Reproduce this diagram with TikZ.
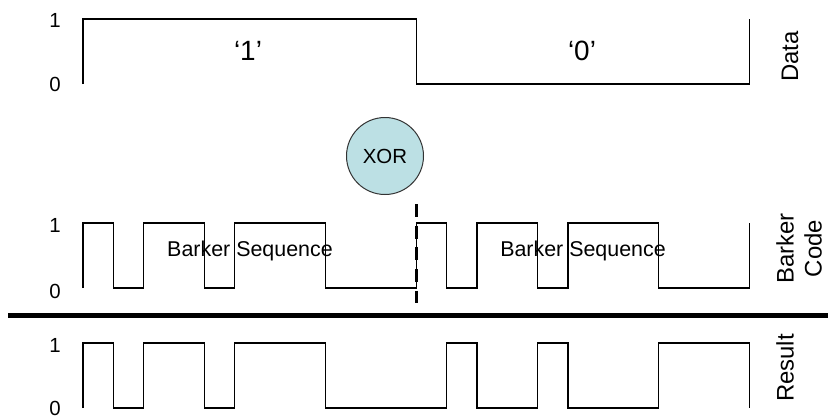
\documentclass[tikz,border=0pt]{standalone}
\usepackage{fontspec}
\setmainfont{Liberation Sans}
\definecolor{xorfill}{HTML}{BCE0E4}
\begin{document}
\begin{tikzpicture}[x=1bp,y=-1bp,
  wave/.style={line width=1.4bp, line join=miter},
  lvl/.style={inner sep=0pt, font=\fontsize{20.5}{21}\selectfont},
  side/.style={inner sep=0pt, rotate=90, align=center, font=\fontsize{24}{28}\selectfont},
  seq/.style={inner sep=0pt, font=\fontsize{21.5}{23}\selectfont},
  bit/.style={inner sep=0pt, font=\fontsize{28}{29}\selectfont},
  xorc/.style={circle, draw=black!80, line width=1bp, fill=xorfill, minimum size=77bp, inner sep=0pt, font=\fontsize{20.5}{22}\selectfont}]
\useasboundingbox (0,0) rectangle (828,419);
\def\xo{83}\def\ch{30.3}
% levels
\def\dH{19}\def\dL{84}
\def\bH{223}\def\bL{288}
\def\rH{343}\def\rL{408}
% Data waveform
\draw[wave] (\xo,\dL) -- (\xo,\dH) -- ({\xo+11*\ch},\dH) -- ({\xo+11*\ch},\dL) -- ({\xo+22*\ch},\dL) -- ({\xo+22*\ch},\dH);
% Barker code waveform
\draw[wave] (\xo,\bL) -- (\xo,\bH)
  -- ({\xo+1*\ch},\bH) -- ({\xo+1*\ch},\bL)
  -- ({\xo+2*\ch},\bL) -- ({\xo+2*\ch},\bH)
  -- ({\xo+4*\ch},\bH) -- ({\xo+4*\ch},\bL)
  -- ({\xo+5*\ch},\bL) -- ({\xo+5*\ch},\bH)
  -- ({\xo+8*\ch},\bH) -- ({\xo+8*\ch},\bL)
  -- ({\xo+11*\ch},\bL) -- ({\xo+11*\ch},\bH)
  -- ({\xo+12*\ch},\bH) -- ({\xo+12*\ch},\bL)
  -- ({\xo+13*\ch},\bL) -- ({\xo+13*\ch},\bH)
  -- ({\xo+15*\ch},\bH) -- ({\xo+15*\ch},\bL)
  -- ({\xo+16*\ch},\bL) -- ({\xo+16*\ch},\bH)
  -- ({\xo+19*\ch},\bH) -- ({\xo+19*\ch},\bL)
  -- ({\xo+22*\ch},\bL) -- ({\xo+22*\ch},\bH);
% Result waveform
\draw[wave] (\xo,\rL) -- (\xo,\rH)
  -- ({\xo+1*\ch},\rH) -- ({\xo+1*\ch},\rL)
  -- ({\xo+2*\ch},\rL) -- ({\xo+2*\ch},\rH)
  -- ({\xo+4*\ch},\rH) -- ({\xo+4*\ch},\rL)
  -- ({\xo+5*\ch},\rL) -- ({\xo+5*\ch},\rH)
  -- ({\xo+8*\ch},\rH) -- ({\xo+8*\ch},\rL)
  -- ({\xo+12*\ch},\rL) -- ({\xo+12*\ch},\rH)
  -- ({\xo+13*\ch},\rH) -- ({\xo+13*\ch},\rL)
  -- ({\xo+15*\ch},\rL) -- ({\xo+15*\ch},\rH)
  -- ({\xo+16*\ch},\rH) -- ({\xo+16*\ch},\rL)
  -- ({\xo+19*\ch},\rL) -- ({\xo+19*\ch},\rH)
  -- ({\xo+22*\ch},\rH) -- ({\xo+22*\ch},\rL);
% dashed divider between data bits
\coordinate (dtop) at ({\xo+11*\ch},204);
\coordinate (dbot) at ({\xo+11*\ch},303);
\draw[line width=3.6bp, dash pattern=on 13bp off 8.7bp] (dtop) -- (dbot);
% thick separator
\coordinate (sepL) at (8,315.5);
\coordinate (sepR) at (828,315.5);
\draw[line width=5.5bp] (sepL) -- (sepR);
% level labels
\node[lvl] (d1) at (55,20.3) {1};
\node[lvl] (d0) at (55,84.7) {0};
\node[lvl] (b1) at (55,225) {1};
\node[lvl] (b0) at (55,291.5) {0};
\node[lvl] (r1) at (55,345) {1};
\node[lvl] (r0) at (55,408) {0};
% bit labels
\node[bit] (bitone) at (248,51) {‘1’};
\node[bit] (bitzero) at (582,51) {‘0’};
% Barker sequence labels
\node[seq] (seqA) at (250,251) {Barker Sequence};
\node[seq] (seqB) at (583,251) {Barker Sequence};
% XOR
\node[xorc] (xor) at (385,156) {XOR};
% side labels
\node[side] (ldata) at (790,56.5) {Data};
\node[side] (lbarker) at (799,248.5) {Barker\\Code};
\node[side] (lresult) at (785,368) {Result};
\end{tikzpicture}
\end{document}
